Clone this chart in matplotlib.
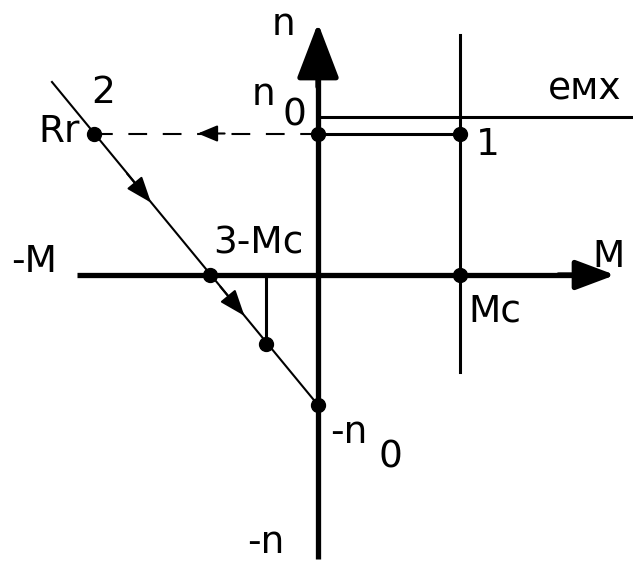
import matplotlib
matplotlib.use("Agg")
import matplotlib.pyplot as plt
from matplotlib.patches import FancyArrowPatch

# значения в относительных единицах (n0 = 1, Mc = 1)
n0 = 1.0
Mc = 1.0
n_emx = 1.117          # естественная характеристика
M_rr = -1.583          # точка 2 (Rr)
M_3 = -0.763           # точка 3 (-Mc)
M_4, n_4 = -0.367, -0.49
n_neg0 = -0.919        # -n0
line_start = (-1.88, 1.364)

# оси
M_axis = (-1.703, 2.10)
n_axis = (-2.01, 1.78)
Mc_line = (-0.686, 1.696)

pts_M = [0, Mc, M_rr, M_3, M_4, 0, Mc]
pts_n = [n0, n0, n0, 0, n_4, n_neg0, 0]

W, H = 633, 564
fig = plt.figure(figsize=(W / 100, H / 100), dpi=100)
ax = fig.add_axes([0, 0, 1, 1])
ax.set_xlim(-318 / 141.5, (W - 318) / 141.5)
ax.set_ylim((275 - H) / 141.5, 275 / 141.5)
ax.axis("off")

k = "black"

# толстые оси с стрелками
ax.plot([M_axis[0], M_axis[1] - 0.2], [0, 0], color=k, lw=3.8, solid_capstyle="butt")
ax.plot([0, 0], [n_axis[0], n_axis[1] - 0.2], color=k, lw=3.8, solid_capstyle="butt")
ax.add_patch(FancyArrowPatch((M_axis[1] - 0.4, 0), (M_axis[1], 0),
                             arrowstyle="-|>,head_length=24,head_width=9",
                             mutation_scale=1, color=k, lw=3.8, shrinkA=0, shrinkB=0))
ax.add_patch(FancyArrowPatch((0, n_axis[1] - 0.45), (0, n_axis[1]),
                             arrowstyle="-|>,head_length=34,head_width=13",
                             mutation_scale=1, color=k, lw=3.8, shrinkA=0, shrinkB=0))

# тонкие линии
ax.plot([0, ax.get_xlim()[1]], [n_emx, n_emx], color=k, lw=2.2)
ax.plot([Mc, Mc], Mc_line, color=k, lw=2.2)
ax.plot([0, Mc], [n0, n0], color=k, lw=2.2)
ax.plot([M_4, M_4], [0, n_4], color=k, lw=2.2)
ax.plot([line_start[0], 0], [line_start[1], n_neg0], color=k, lw=1.5)

# пунктир от точки 2 к n0
ax.plot([M_rr, 0], [n0, n0], color=k, lw=1.5, linestyle=(0, (9, 7.5)))
ax.add_patch(FancyArrowPatch((-0.66, n0), (-0.85, n0),
                             arrowstyle="-|>,head_length=12,head_width=5",
                             mutation_scale=1, color=k, lw=1.5, shrinkA=0, shrinkB=0))

# стрелки вдоль прямой
slope = (n_neg0 - n0) / (0 - M_rr)
for Ma in [-1.18, -0.52]:
    tail = Ma - 0.17
    ax.add_patch(FancyArrowPatch((tail, n0 + slope * (tail - M_rr)),
                                 (Ma, n0 + slope * (Ma - M_rr)),
                                 arrowstyle="-|>,head_length=16,head_width=6",
                                 mutation_scale=1, color=k, lw=1.5,
                                 shrinkA=0, shrinkB=0))

ax.plot(pts_M, pts_n, "o", color=k, ms=10, zorder=5)

# подписи (позиции в пикселях)
fs = 27
def label(x, y, s, ha="center"):
    fig.text(x / W, 1 - y / H, s, fontsize=fs, ha=ha, va="baseline",
             family="DejaVu Sans", color=k)

label(283, 35, "n")
label(263, 105, "n")
label(294, 125, "0")
label(585, 100, "емх")
label(488, 155, "1")
label(103, 103, "2")
label(80, 142, "Rr", ha="right")
label(34, 272, "-M")
label(258, 253, "3-Mc")
label(608, 267, "M")
label(468, 322, "Mc", ha="left")
label(330, 443, "-n", ha="left")
label(390, 468, "0")
label(247, 553, "-n", ha="left")

fig.savefig("out.png", dpi=100)
